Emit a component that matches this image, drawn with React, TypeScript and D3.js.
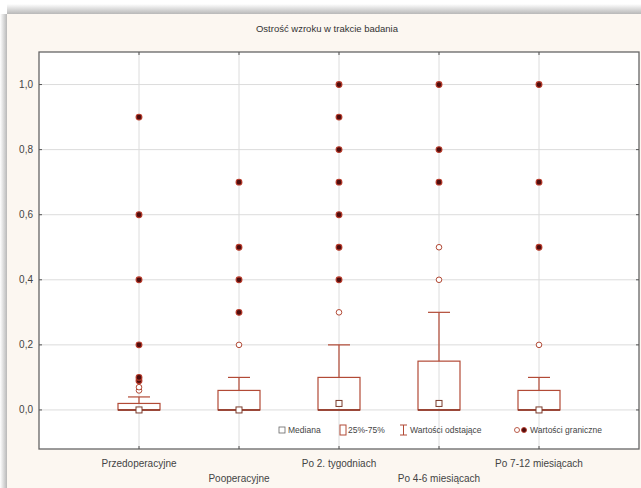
import React from "react";
import * as d3 from "d3";

const categories = [
  "Przedoperacyjne",
  "Pooperacyjne",
  "Po 2. tygodniach",
  "Po 4-6 miesiącach",
  "Po 7-12 miesiącach",
];
const medians = [0.0, 0.0, 0.02, 0.02, 0.0];
const q1 = [0.0, 0.0, 0.0, 0.0, 0.0];
const q3 = [0.02, 0.06, 0.1, 0.15, 0.06];
const whiskerLow = [0.0, 0.0, 0.0, 0.0, 0.0];
const whiskerHigh = [0.04, 0.1, 0.2, 0.3, 0.1];
const outliers = [
  [0.06, 0.07],
  [0.2],
  [0.3],
  [0.4, 0.5],
  [0.2],
];
const extremes = [
  [0.09, 0.1, 0.2, 0.4, 0.6, 0.9],
  [0.3, 0.4, 0.5, 0.7],
  [0.4, 0.5, 0.6, 0.7, 0.8, 0.9, 1.0],
  [0.7, 0.8, 1.0],
  [0.5, 0.7, 1.0],
];
const yTicks = [0.0, 0.2, 0.4, 0.6, 0.8, 1.0];
const title = "Ostrość wzroku w trakcie badania";

const W = 641;
const H = 488;
const plot = { left: 39, right: 639, top: 52, bottom: 449 };

const BOX = "#b24a36";
const FONT = "'Liberation Sans', Arial, sans-serif";

export default function App() {
  const x = d3.scaleLinear().domain([0, categories.length + 1]).range([plot.left, plot.right]);
  const y = d3.scaleLinear().domain([-0.12, 1.1]).range([plot.bottom, plot.top]);
  const fmt = (v: number) => d3.format(".1f")(v).replace(".", ",");
  const boxW = 42;
  const capW = 22;

  return (
    <svg width={W} height={H} style={{ position: "absolute", left: 0, top: 0 }}>
      <defs>
        <linearGradient id="shTop" x1="0" y1="0" x2="0" y2="1">
          <stop offset="0" stopColor="#ffffff" />
          <stop offset="1" stopColor="#b8b8b8" />
        </linearGradient>
        <linearGradient id="shLeft" x1="0" y1="0" x2="1" y2="0">
          <stop offset="0" stopColor="#ffffff" />
          <stop offset="1" stopColor="#b8b8b8" />
        </linearGradient>
      </defs>
      <rect x={0} y={0} width={W} height={H} fill="#ffffff" />
      <rect x={7} y={4} width={W - 7} height={10} fill="url(#shTop)" />
      <rect x={0} y={14} width={7} height={H - 14} fill="url(#shLeft)" />
      <rect x={7} y={14} width={W - 7} height={H - 14} fill="#fcf7f1" />

      <text x={327} y={32} textAnchor="middle" fontFamily={FONT} fontSize={9.5} fill="#333">
        {title}
      </text>

      <rect x={plot.left} y={plot.top} width={plot.right - plot.left} height={plot.bottom - plot.top} fill="#ffffff" />

      {/* grid */}
      {yTicks.map((t) => (
        <line key={"gy" + t} x1={plot.left} x2={plot.right} y1={y(t)} y2={y(t)} stroke="#dcdcdc" strokeWidth={1} />
      ))}
      {categories.map((c, i) => (
        <line key={"gx" + c} x1={x(i + 1)} x2={x(i + 1)} y1={plot.top} y2={plot.bottom} stroke="#dcdcdc" strokeWidth={1} />
      ))}

      {/* plot frame */}
      <rect x={plot.left} y={plot.top} width={plot.right - plot.left} height={plot.bottom - plot.top} fill="none" stroke="#666" strokeWidth={1.3} />

      {/* ticks */}
      {yTicks.map((t) => (
        <g key={"yt" + t}>
          <line x1={plot.left} x2={plot.left + 3} y1={y(t)} y2={y(t)} stroke="#555" />
          <line x1={plot.right - 3} x2={plot.right} y1={y(t)} y2={y(t)} stroke="#555" />
          <text x={33} y={y(t) + 3.5} textAnchor="end" fontFamily={FONT} fontSize={10} fill="#444">
            {fmt(t)}
          </text>
        </g>
      ))}
      {categories.map((c, i) => (
        <g key={"xt" + c}>
          <line x1={x(i + 1)} x2={x(i + 1)} y1={plot.bottom - 3} y2={plot.bottom} stroke="#555" />
          <line x1={x(i + 1)} x2={x(i + 1)} y1={plot.top} y2={plot.top + 3} stroke="#555" />
          <text
            x={x(i + 1)}
            y={i % 2 === 0 ? 467 : 482}
            textAnchor="middle"
            fontFamily={FONT}
            fontSize={10}
            fill="#444"
          >
            {c}
          </text>
        </g>
      ))}

      {/* boxes */}
      {categories.map((c, i) => {
        const cx = x(i + 1);
        return (
          <g key={"box" + c}>
            <line x1={cx} x2={cx} y1={y(q3[i])} y2={y(whiskerHigh[i])} stroke={BOX} strokeWidth={1.2} />
            <line x1={cx - capW / 2} x2={cx + capW / 2} y1={y(whiskerHigh[i])} y2={y(whiskerHigh[i])} stroke={BOX} strokeWidth={1.2} />
            <line x1={cx} x2={cx} y1={y(q1[i])} y2={y(whiskerLow[i])} stroke={BOX} strokeWidth={1.2} />
            <rect
              x={cx - boxW / 2}
              y={y(q3[i])}
              width={boxW}
              height={Math.max(1, y(q1[i]) - y(q3[i]))}
              fill="none"
              stroke={BOX}
              strokeWidth={1.2}
            />
            <line x1={cx - boxW / 2} x2={cx + boxW / 2} y1={y(q1[i])} y2={y(q1[i])} stroke="#8a3020" strokeWidth={1.6} />
            <rect x={cx - 3} y={y(medians[i]) - 3} width={6} height={6} fill="#fff" stroke="#7a3a2a" strokeWidth={1} />
            {outliers[i].map((v) => (
              <circle key={"o" + v} cx={cx} cy={y(v)} r={2.8} fill="#fff" stroke={BOX} strokeWidth={1} />
            ))}
            {extremes[i].map((v) => (
              <circle key={"e" + v} cx={cx} cy={y(v)} r={2.9} fill="#4e0d0d" stroke="#b83a2a" strokeWidth={1.1} />
            ))}
          </g>
        );
      })}

      {/* legend */}
      <g fontFamily={FONT} fontSize={8.5} fill="#444">
        <rect x={279} y={427} width={6} height={6} fill="#fff" stroke="#666" strokeWidth={0.8} />
        <text x={288} y={433}>Mediana</text>
        <rect x={340} y={425} width={6} height={10} fill="#fff" stroke={BOX} strokeWidth={1} />
        <text x={348} y={433}>25%-75%</text>
        <line x1={400} x2={407} y1={425} y2={425} stroke={BOX} />
        <line x1={403.5} x2={403.5} y1={425} y2={435} stroke={BOX} />
        <line x1={400} x2={407} y1={435} y2={435} stroke={BOX} />
        <text x={410} y={433}>Wartości odstające</text>
        <circle cx={517} cy={430} r={2.5} fill="#fff" stroke={BOX} strokeWidth={0.9} />
        <circle cx={524} cy={430} r={2.5} fill="#4e0d0d" stroke="#b83a2a" strokeWidth={0.9} />
        <text x={530} y={433}>Wartości graniczne</text>
      </g>
    </svg>
  );
}
